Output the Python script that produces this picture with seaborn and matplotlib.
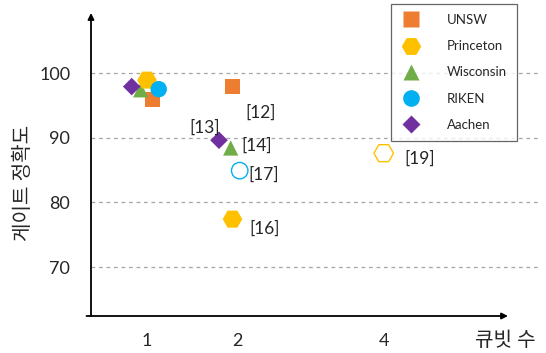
import matplotlib
matplotlib.use("Agg")
import matplotlib.pyplot as plt
import seaborn as sns
import pandas as pd
from matplotlib.lines import Line2D

# ---- data ----
groups = ["UNSW", "Wisconsin", "Princeton", "Aachen", "RIKEN",
          "UNSW", "Aachen", "Wisconsin", "RIKEN", "Princeton", "Princeton"]
x_pos = [1.06, 0.93, 1.00, 0.83, 1.13, 1.95, 1.80, 1.93, 2.03, 1.95, 3.63]
fidelity = [95.9, 97.4, 98.9, 97.9, 97.5, 97.9, 89.6, 88.4, 84.9, 77.4, 87.6]
hollow = [False, False, False, False, False, False, False, False, True, False, True]
refs = ["", "", "", "", "", "[12]", "[13]", "[14]", "[17]", "[16]", "[19]"]
xtick_pos = [1, 2, 3.63]
xtick_labels = ["1", "2", "4"]
yticks = [70, 80, 90, 100]
legend_order = ["UNSW", "Princeton", "Wisconsin", "RIKEN", "Aachen"]

palette = {"UNSW": "#ED7D31", "Princeton": "#FFC000", "Wisconsin": "#70AD47",
           "RIKEN": "#00B0F0", "Aachen": "#7030A0"}
markers = {"UNSW": "s", "Princeton": "H", "Wisconsin": "^", "RIKEN": "o", "Aachen": "D"}
sizes = {"UNSW": 120, "Princeton": 200, "Wisconsin": 120, "RIKEN": 140, "Aachen": 80}

df = pd.DataFrame({"group": groups, "x": x_pos, "y": fidelity,
                   "hollow": hollow, "ref": refs})

sns.set_theme(style="white")
plt.rcParams["font.family"] = ["Lato", "Noto Sans CJK KR", "DejaVu Sans"]

fig = plt.figure(figsize=(5.46, 3.53), dpi=100)
L, R, B, T = 91, 540, 316, 13
ax = fig.add_axes([L / 546, 1 - B / 353, (R - L) / 546, (B - T) / 353])

xmin = 1 + (L - 147) / 90
xmax = 1 + (R - 147) / 90
ppu = (267 - 73) / 30
ymin = 70 - (B - 267) / ppu
ymax = 100 + (73 - T) / ppu
ax.set_xlim(xmin, xmax)
ax.set_ylim(ymin, ymax)

for y in yticks:
    ax.axhline(y, color="#A6A6A6", lw=0.9, ls=(0, (3, 3)), zorder=0)

filled = df[~df.hollow]
for g in ["UNSW", "Wisconsin", "Princeton", "Aachen", "RIKEN"]:
    sub = filled[filled.group == g]
    sns.scatterplot(data=sub, x="x", y="y", marker=markers[g], color=palette[g],
                    s=sizes[g], edgecolor="none", linewidth=0, ax=ax, zorder=3,
                    legend=False)
hol = df[df.hollow]
for _, r in hol.iterrows():
    sns.scatterplot(x=[r.x], y=[r.y], marker=markers[r.group], s=sizes[r.group],
                    facecolor="none", edgecolor=palette[r.group], linewidth=1.0,
                    ax=ax, zorder=3, legend=False)

offsets = {"[12]": (20, -19), "[13]": (-10, 9), "[14]": (19, 1.5),
           "[17]": (17, -3), "[16]": (23, -7), "[19]": (26, -4)}
for _, r in df[df.ref != ""].iterrows():
    ax.annotate(r.ref, (r.x, r.y), xytext=offsets[r.ref], textcoords="offset points",
                ha="center", va="center", fontsize=12.5, color="#262626")

ax.set_xticks(xtick_pos)
ax.set_xticklabels(xtick_labels)
ax.set_yticks(yticks)
ax.tick_params(axis="both", length=0, labelsize=13, colors="#262626")
ax.tick_params(axis="y", pad=15)
ax.tick_params(axis="x", pad=12)
ax.set_xlabel("")
ax.set_ylabel("")
for sp in ax.spines.values():
    sp.set_visible(False)

# axes with arrows
ax.annotate("", xy=((508 - L) / (R - L), 0), xytext=(-0.01, 0), xycoords="axes fraction",
            arrowprops=dict(arrowstyle="-|>", color="black", lw=1.3,
                            mutation_scale=9, shrinkA=0, shrinkB=0))
ax.annotate("", xy=(0, 1), xytext=(0, 0), xycoords="axes fraction",
            arrowprops=dict(arrowstyle="-|>", color="black", lw=1.3,
                            mutation_scale=9, shrinkA=0, shrinkB=0))

fig.text(22 / 546, 1 - 183 / 353, "게이트 정확도", rotation=90, ha="center", va="center",
         fontsize=14.5, color="#262626")
fig.text(505 / 546, 1 - 340 / 353, "큐빗 수", ha="center", va="center",
         fontsize=14.5, color="#262626")

handles = [Line2D([], [], ls="none", marker=markers[g], markerfacecolor=palette[g],
                  markeredgecolor="none", markersize={"UNSW": 11, "Princeton": 14,
                  "Wisconsin": 11, "RIKEN": 12, "Aachen": 9}[g]) for g in legend_order]
leg = fig.legend(handles, legend_order, loc="upper left",
                 bbox_to_anchor=(391 / 546, 1 - 4 / 353), bbox_transform=fig.transFigure,
                 frameon=True, fancybox=False, fontsize=9.5, labelspacing=1.08,
                 handletextpad=1.9, borderpad=0.75, handlelength=1.6, borderaxespad=0)
leg.get_frame().set_edgecolor("#404040")
leg.get_frame().set_linewidth(0.9)

fig.savefig("out.png", dpi=100)
